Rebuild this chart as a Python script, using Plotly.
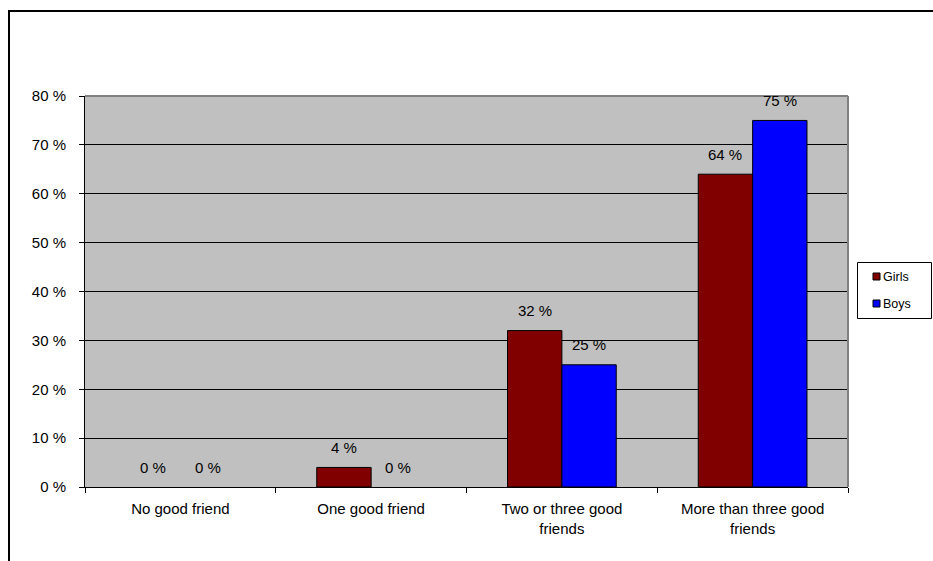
import plotly.graph_objects as go

categories = ["No good friend", "One good friend", "Two or three good friends", "More than three good friends"]
tick_labels = ["No good friend", "One good friend", "Two or three good<br>friends", "More than three good<br>friends"]
series_names = ["Girls", "Boys"]
girls = [0, 4, 32, 64]
boys = [0, 0, 25, 75]
series_colors = ["#800000", "#0000FF"]
y_ticks = [0, 10, 20, 30, 40, 50, 60, 70, 80]
y_tick_labels = [f"{v} %" for v in y_ticks]

W, H = 933, 561
L, R, T, B = 85, 848, 96, 487
FONT = "Liberation Sans, Arial, sans-serif"
FS = 15


def px_x(px):
    return (px - L) / (R - L)


def px_y(py):
    return (B - py) / (B - T)


fig = go.Figure()
for name, vals, col in zip(series_names, [girls, boys], series_colors):
    fig.add_trace(go.Bar(name=name, x=categories, y=vals,
                         marker=dict(color=col,
                                     line=dict(color="black",
                                               width=[0 if v == 0 else 1 for v in vals])),
                         showlegend=False))

# data labels above bars
bar_px = (R - L) / len(categories) * (1 - 0.43) / 2
annotations = []
for k, vals in enumerate([girls, boys]):
    shift = -bar_px / 2 if k == 0 else bar_px / 2
    for c, v in zip(categories, vals):
        annotations.append(dict(x=c, y=v, xref="x", yref="y", text=f"{v} %",
                                showarrow=False, xshift=shift, yshift=20,
                                yanchor="middle", xanchor="center",
                                font=dict(family=FONT, size=FS, color="black")))

# legend (manual, Excel style)
shapes = [
    dict(type="line", xref="paper", yref="paper", x0=0, x1=1, y0=1, y1=1,
         line=dict(color="#808080", width=2)),
    dict(type="line", xref="paper", yref="paper", x0=1, x1=1, y0=0, y1=1,
         line=dict(color="#808080", width=2)),
    dict(type="rect", xref="paper", yref="paper",
         x0=px_x(9), x1=px_x(945), y0=px_y(580), y1=px_y(11),
         line=dict(color="black", width=2), layer="below"),
    dict(type="rect", xref="paper", yref="paper",
         x0=px_x(857.5), x1=px_x(931.5), y0=px_y(318.5), y1=px_y(262.5),
         line=dict(color="black", width=1), fillcolor="white"),
]
for i, (name, col) in enumerate(zip(series_names, series_colors)):
    cy = 276.5 + 27 * i
    shapes.append(dict(type="rect", xref="paper", yref="paper",
                       x0=px_x(873), x1=px_x(880), y0=px_y(cy + 3.5), y1=px_y(cy - 3.5),
                       line=dict(color="black", width=1), fillcolor=col))
    annotations.append(dict(x=px_x(881), y=px_y(cy), xref="paper", yref="paper",
                            text=name, showarrow=False, xanchor="left", yanchor="middle",
                            font=dict(family=FONT, size=12.5, color="black")))

fig.update_layout(
    width=W, height=H,
    margin=dict(l=L, r=W - R, t=T, b=H - B, autoexpand=False),
    paper_bgcolor="white",
    plot_bgcolor="#C0C0C0",
    font=dict(family=FONT, size=FS, color="black"),
    barmode="group",
    bargap=0.43,
    bargroupgap=0,
    showlegend=False,
    xaxis=dict(showgrid=False, showline=True, linecolor="black", linewidth=1,
               tickmode="array", tickvals=categories, ticktext=tick_labels,
               ticks="outside", tickson="boundaries", ticklen=5, tickcolor="black",
               mirror=False, tickfont=dict(size=FS), ticklabelstandoff=8),
    yaxis=dict(range=[0, 80], tickvals=y_ticks, ticktext=y_tick_labels,
               showgrid=True, gridcolor="black", gridwidth=1,
               showline=True, linecolor="black", linewidth=1,
               ticks="outside", ticklen=5, tickcolor="black",
               zeroline=False, tickfont=dict(size=FS), ticklabelstandoff=10),
    shapes=shapes,
    annotations=annotations,
)

fig.write_html("out.html", config={"displayModeBar": False},
               post_script="document.body.style.margin='0';document.body.style.overflow='hidden';")
